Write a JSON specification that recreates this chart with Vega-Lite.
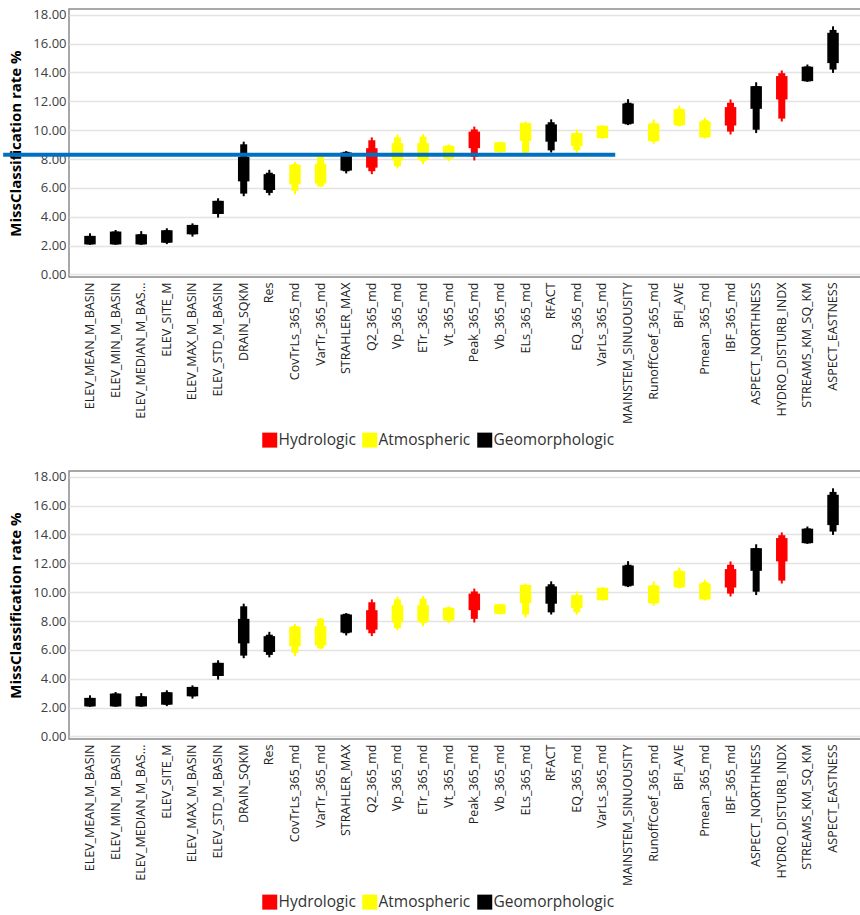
{
  "$schema": "https://vega.github.io/schema/vega-lite/v6.json",
  "padding": {"left": 0, "top": 8, "right": 0, "bottom": 0},
  "datasets": {
    "boxes": [
      {"variable": "ELEV_MEAN_M_BASIN", "group": "Geomorphologic", "lo": 2.05, "n1": 2.08, "w1": 2.08, "w2": 2.67, "n2": 2.67, "hi": 2.85},
      {"variable": "ELEV_MIN_M_BASIN", "group": "Geomorphologic", "lo": 2.05, "n1": 2.08, "w1": 2.08, "w2": 2.97, "n2": 2.97, "hi": 3.08},
      {"variable": "ELEV_MEDIAN_M_BASIN", "group": "Geomorphologic", "lo": 2.05, "n1": 2.08, "w1": 2.08, "w2": 2.78, "n2": 2.78, "hi": 3.0},
      {"variable": "ELEV_SITE_M", "group": "Geomorphologic", "lo": 2.1, "n1": 2.2, "w1": 2.2, "w2": 3.06, "n2": 3.06, "hi": 3.2},
      {"variable": "ELEV_MAX_M_BASIN", "group": "Geomorphologic", "lo": 2.62, "n1": 2.78, "w1": 2.78, "w2": 3.43, "n2": 3.43, "hi": 3.54},
      {"variable": "ELEV_STD_M_BASIN", "group": "Geomorphologic", "lo": 3.94, "n1": 4.19, "w1": 4.19, "w2": 5.1, "n2": 5.1, "hi": 5.28},
      {"variable": "DRAIN_SQKM", "group": "Geomorphologic", "lo": 5.42, "n1": 5.6, "w1": 6.45, "w2": 8.15, "n2": 9.02, "hi": 9.2},
      {"variable": "Res", "group": "Geomorphologic", "lo": 5.48, "n1": 5.65, "w1": 5.85, "w2": 6.95, "n2": 7.05, "hi": 7.25},
      {"variable": "CovTrLs_365_md", "group": "Atmospheric", "lo": 5.57, "n1": 5.8, "w1": 6.25, "w2": 7.6, "n2": 7.65, "hi": 7.8},
      {"variable": "VarTr_365_md", "group": "Atmospheric", "lo": 6.05, "n1": 6.1, "w1": 6.3, "w2": 7.65, "n2": 8.15, "hi": 8.22},
      {"variable": "STRAHLER_MAX", "group": "Geomorphologic", "lo": 7.0, "n1": 7.15, "w1": 7.2, "w2": 8.45, "n2": 8.5, "hi": 8.55},
      {"variable": "Q2_365_md", "group": "Hydrologic", "lo": 6.95, "n1": 7.15, "w1": 7.4, "w2": 8.75, "n2": 9.3, "hi": 9.5},
      {"variable": "Vp_365_md", "group": "Atmospheric", "lo": 7.35, "n1": 7.5, "w1": 7.9, "w2": 9.1, "n2": 9.5, "hi": 9.7},
      {"variable": "ETr_365_md", "group": "Atmospheric", "lo": 7.65, "n1": 7.85, "w1": 7.95, "w2": 9.1, "n2": 9.55, "hi": 9.72},
      {"variable": "Vt_365_md", "group": "Atmospheric", "lo": 7.85, "n1": 8.0, "w1": 8.05, "w2": 8.9, "n2": 8.95, "hi": 9.0},
      {"variable": "Peak_365_md", "group": "Hydrologic", "lo": 7.9, "n1": 8.15, "w1": 8.75, "w2": 9.9, "n2": 10.05, "hi": 10.25},
      {"variable": "Vb_365_md", "group": "Atmospheric", "lo": 8.45, "n1": 8.48, "w1": 8.5, "w2": 9.15, "n2": 9.15, "hi": 9.2},
      {"variable": "ELs_365_md", "group": "Atmospheric", "lo": 8.25, "n1": 8.45, "w1": 9.25, "w2": 10.5, "n2": 10.5, "hi": 10.6},
      {"variable": "RFACT", "group": "Geomorphologic", "lo": 8.45, "n1": 8.6, "w1": 9.2, "w2": 10.4, "n2": 10.55, "hi": 10.75},
      {"variable": "EQ_365_md", "group": "Atmospheric", "lo": 8.45, "n1": 8.6, "w1": 8.9, "w2": 9.8, "n2": 9.8, "hi": 10.05},
      {"variable": "VarLs_365_md", "group": "Atmospheric", "lo": 9.4, "n1": 9.45, "w1": 9.45, "w2": 10.3, "n2": 10.3, "hi": 10.35},
      {"variable": "MAINSTEM_SINUOUSITY", "group": "Geomorphologic", "lo": 10.35, "n1": 10.4, "w1": 10.45, "w2": 11.85, "n2": 11.9, "hi": 12.15},
      {"variable": "RunoffCoef_365_md", "group": "Atmospheric", "lo": 9.05, "n1": 9.2, "w1": 9.25, "w2": 10.45, "n2": 10.5, "hi": 10.75},
      {"variable": "BFI_AVE", "group": "Atmospheric", "lo": 10.25, "n1": 10.3, "w1": 10.35, "w2": 11.45, "n2": 11.5, "hi": 11.7},
      {"variable": "Pmean_365_md", "group": "Atmospheric", "lo": 9.42, "n1": 9.5, "w1": 9.5, "w2": 10.6, "n2": 10.7, "hi": 10.87},
      {"variable": "IBF_365_md", "group": "Hydrologic", "lo": 9.7, "n1": 9.9, "w1": 10.32, "w2": 11.6, "n2": 11.9, "hi": 12.13},
      {"variable": "ASPECT_NORTHNESS", "group": "Geomorphologic", "lo": 9.8, "n1": 10.03, "w1": 11.48, "w2": 13.05, "n2": 13.05, "hi": 13.32},
      {"variable": "HYDRO_DISTURB_INDX", "group": "Hydrologic", "lo": 10.6, "n1": 10.8, "w1": 12.13, "w2": 13.75, "n2": 13.95, "hi": 14.14},
      {"variable": "STREAMS_KM_SQ_KM", "group": "Geomorphologic", "lo": 13.35, "n1": 13.38, "w1": 13.4, "w2": 14.4, "n2": 14.42, "hi": 14.55},
      {"variable": "ASPECT_EASTNESS", "group": "Geomorphologic", "lo": 13.97, "n1": 14.2, "w1": 14.65, "w2": 16.75, "n2": 16.95, "hi": 17.2}
    ],
    "threshold": [
      {"start": "ELEV_MEAN_M_BASIN", "end": "VarLs_365_md", "rate": 8.29}
    ]
  },
  "config": {
    "font": "Open Sans",
    "view": {"stroke": "#8c8c8c", "strokeWidth": 1.5},
    "concat": {"spacing": 20},
    "axisX": {
      "title": null, "labelAngle": -90, "labelFontSize": 12.5, "labelColor": "#222222",
      "ticks": false, "tickSize": 0, "labelPadding": 5, "domain": false, "grid": false
    },
    "axisY": {
      "titleFontSize": 15, "titleFontWeight": "bold", "titleColor": "#000000", "titlePadding": 9,
      "labelFontSize": 13, "labelColor": "#404040", "ticks": false, "tickSize": 0,
      "labelPadding": 3, "domain": false, "gridColor": "#e3e3e3", "gridWidth": 1.5,
      "labelOverlap": false, "tickCount": 10
    },
    "legend": {
      "orient": "none", "legendX": 193, "legendY": 423, "direction": "horizontal",
      "title": null, "symbolType": "square", "symbolSize": 225, "symbolStrokeWidth": 0,
      "symbolOpacity": 1, "labelFontSize": 15.5, "labelColor": "#333333", "labelOffset": 1,
      "columnPadding": 6
    }
  },
  "resolve": {"scale": {"color": "independent"}, "legend": {"color": "independent"}},
  "vconcat": [
    {
      "width": 792, "height": 268,
      "data": {"name": "boxes"},
      "encoding": {
        "x": {
          "field": "variable", "type": "nominal", "title": null,
          "scale": {
            "domain": ["ELEV_MEAN_M_BASIN", "ELEV_MIN_M_BASIN", "ELEV_MEDIAN_M_BASIN", "ELEV_SITE_M", "ELEV_MAX_M_BASIN", "ELEV_STD_M_BASIN", "DRAIN_SQKM", "Res", "CovTrLs_365_md", "VarTr_365_md", "STRAHLER_MAX", "Q2_365_md", "Vp_365_md", "ETr_365_md", "Vt_365_md", "Peak_365_md", "Vb_365_md", "ELs_365_md", "RFACT", "EQ_365_md", "VarLs_365_md", "MAINSTEM_SINUOUSITY", "RunoffCoef_365_md", "BFI_AVE", "Pmean_365_md", "IBF_365_md", "ASPECT_NORTHNESS", "HYDRO_DISTURB_INDX", "STREAMS_KM_SQ_KM", "ASPECT_EASTNESS"],
            "paddingInner": 0, "paddingOuter": 0.455, "align": 0.35
          },
          "axis": {"labelExpr": "datum.value == 'ELEV_MEDIAN_M_BASIN' ? 'ELEV_MEDIAN_M_BAS...' : datum.value"}
        },
        "color": {
          "field": "group", "type": "nominal",
          "scale": {"domain": ["Hydrologic", "Atmospheric", "Geomorphologic"], "range": ["#ff0000", "#ffff00", "#000000"]}
        }
      },
      "layer": [
        {
          "mark": {"type": "rule", "strokeWidth": 2},
          "encoding": {
            "y": {"field": "lo", "type": "quantitative", "title": "MissClassification rate %",
              "scale": {"domain": [-0.18, 18.4], "nice": false, "zero": false},
              "axis": {"values": [0, 2, 4, 6, 8, 10, 12, 14, 16, 18], "format": ".2f", "labelOverlap": false}},
            "y2": {"field": "hi"}
          }
        },
        {
          "mark": {"type": "bar", "size": 7},
          "encoding": {
            "y": {"field": "n1", "type": "quantitative", "title": "MissClassification rate %",
              "axis": {"values": [0, 2, 4, 6, 8, 10, 12, 14, 16, 18], "format": ".2f", "labelOverlap": false}},
            "y2": {"field": "n2"}
          }
        },
        {
          "mark": {"type": "bar", "size": 11.5},
          "encoding": {
            "y": {"field": "w1", "type": "quantitative", "title": "MissClassification rate %",
              "axis": {"values": [0, 2, 4, 6, 8, 10, 12, 14, 16, 18], "format": ".2f", "labelOverlap": false}},
            "y2": {"field": "w2"}
          }
        },
        {
          "data": {"name": "threshold"},
          "mark": {"type": "rule", "strokeWidth": 4, "color": "#0070c0", "xOffset": -74, "clip": false},
          "encoding": {
            "x": {"field": "start", "type": "nominal", "bandPosition": 0},
            "x2": {"field": "end", "bandPosition": 1},
            "y": {"field": "rate", "type": "quantitative", "title": "MissClassification rate %",
              "axis": {"values": [0, 2, 4, 6, 8, 10, 12, 14, 16, 18], "format": ".2f", "labelOverlap": false}},
            "color": {"value": "#0070c0"}
          }
        }
      ]
    },
    {
      "width": 792, "height": 268,
      "data": {"name": "boxes"},
      "encoding": {
        "x": {
          "field": "variable", "type": "nominal", "title": null,
          "scale": {
            "domain": ["ELEV_MEAN_M_BASIN", "ELEV_MIN_M_BASIN", "ELEV_MEDIAN_M_BASIN", "ELEV_SITE_M", "ELEV_MAX_M_BASIN", "ELEV_STD_M_BASIN", "DRAIN_SQKM", "Res", "CovTrLs_365_md", "VarTr_365_md", "STRAHLER_MAX", "Q2_365_md", "Vp_365_md", "ETr_365_md", "Vt_365_md", "Peak_365_md", "Vb_365_md", "ELs_365_md", "RFACT", "EQ_365_md", "VarLs_365_md", "MAINSTEM_SINUOUSITY", "RunoffCoef_365_md", "BFI_AVE", "Pmean_365_md", "IBF_365_md", "ASPECT_NORTHNESS", "HYDRO_DISTURB_INDX", "STREAMS_KM_SQ_KM", "ASPECT_EASTNESS"],
            "paddingInner": 0, "paddingOuter": 0.455, "align": 0.35
          },
          "axis": {"labelExpr": "datum.value == 'ELEV_MEDIAN_M_BASIN' ? 'ELEV_MEDIAN_M_BAS...' : datum.value"}
        },
        "color": {
          "field": "group", "type": "nominal",
          "scale": {"domain": ["Hydrologic", "Atmospheric", "Geomorphologic"], "range": ["#ff0000", "#ffff00", "#000000"]}
        }
      },
      "layer": [
        {
          "mark": {"type": "rule", "strokeWidth": 2},
          "encoding": {
            "y": {"field": "lo", "type": "quantitative", "title": "MissClassification rate %",
              "scale": {"domain": [-0.18, 18.4], "nice": false, "zero": false},
              "axis": {"values": [0, 2, 4, 6, 8, 10, 12, 14, 16, 18], "format": ".2f", "labelOverlap": false}},
            "y2": {"field": "hi"}
          }
        },
        {
          "mark": {"type": "bar", "size": 7},
          "encoding": {
            "y": {"field": "n1", "type": "quantitative", "title": "MissClassification rate %",
              "axis": {"values": [0, 2, 4, 6, 8, 10, 12, 14, 16, 18], "format": ".2f", "labelOverlap": false}},
            "y2": {"field": "n2"}
          }
        },
        {
          "mark": {"type": "bar", "size": 11.5},
          "encoding": {
            "y": {"field": "w1", "type": "quantitative", "title": "MissClassification rate %",
              "axis": {"values": [0, 2, 4, 6, 8, 10, 12, 14, 16, 18], "format": ".2f", "labelOverlap": false}},
            "y2": {"field": "w2"}
          }
        }
      ]
    }
  ]
}
